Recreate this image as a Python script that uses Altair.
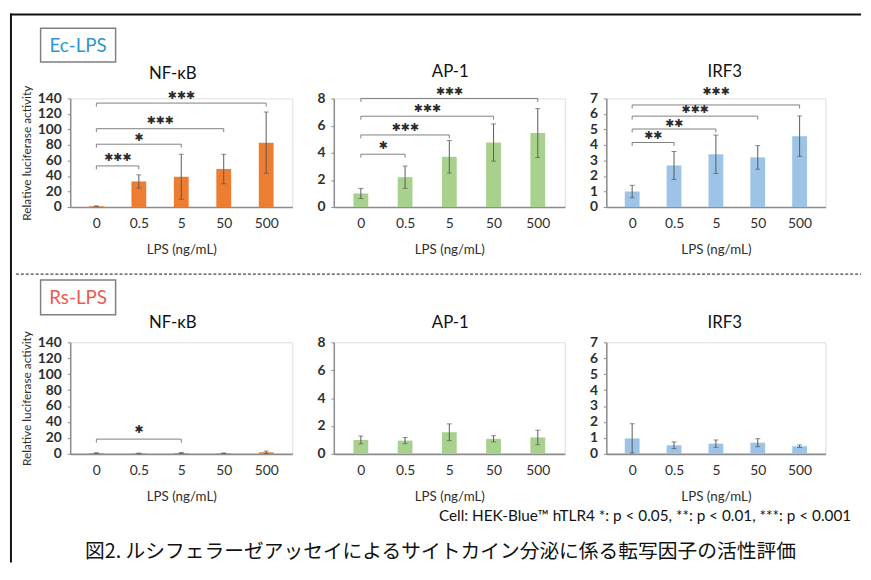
import json
import altair as alt
import pandas as pd

# ---------------- data ----------------
doses = ["0", "0.5", "5", "50", "500"]
genes = ["NF-κB", "AP-1", "IRF3"]
groups = ["Ec-LPS", "Rs-LPS"]
x_title = "LPS (ng/mL)"
y_title = "Relative luciferase activity"
footnote = "Cell: HEK-Blue™ hTLR4  *: p < 0.05, **: p < 0.01, ***: p < 0.001"
caption = "図2. ルシフェラーゼアッセイによるサイトカイン分泌に係る転写因子の活性評価"

ec_nfkb_mean = [1.0, 33, 39, 49, 83]
ec_nfkb_sd = [0.5, 8.5, 29, 19, 39.5]
ec_ap1_mean = [1.0, 2.2, 3.7, 4.75, 5.45]
ec_ap1_sd = [0.37, 0.82, 1.2, 1.37, 1.8]
ec_irf3_mean = [1.0, 2.68, 3.4, 3.2, 4.57]
ec_irf3_sd = [0.4, 0.9, 1.24, 0.76, 1.3]

rs_nfkb_mean = [1.0, 0.6, 1.1, 0.8, 2.0]
rs_nfkb_sd = [0.3, 0.3, 0.5, 0.3, 1.5]
rs_ap1_mean = [1.0, 0.95, 1.55, 1.08, 1.18]
rs_ap1_sd = [0.28, 0.22, 0.6, 0.22, 0.52]
rs_irf3_mean = [0.97, 0.54, 0.64, 0.7, 0.48]
rs_irf3_sd = [0.92, 0.21, 0.23, 0.25, 0.08]

y_max = [140, 8, 7]
y_step = [20, 2, 1]
bar_colors = ["#ED7D31", "#A9D18E", "#9DC3E6"]
group_colors = ["#2E96D2", "#EC5A4F"]

# significance brackets (0 vs dose index): bracket level, stars, star level
ec_nfkb_sig_to = [1, 2, 3, 4]
ec_nfkb_sig_y = [53, 81, 101, 134]
ec_nfkb_sig_star = ["***", "*", "***", "***"]
ec_nfkb_sig_star_y = [63, 89, 111, 143]

ec_ap1_sig_to = [1, 2, 3, 4]
ec_ap1_sig_y = [3.89, 5.31, 6.69, 8.0]
ec_ap1_sig_star = ["*", "***", "***", "***"]
ec_ap1_sig_star_y = [4.47, 5.8, 7.2, 8.45]

ec_irf3_sig_to = [1, 2, 3, 4]
ec_irf3_sig_y = [4.16, 5.03, 5.86, 6.58]
ec_irf3_sig_star = ["**", "**", "***", "***"]
ec_irf3_sig_star_y = [4.6, 5.34, 6.27, 7.4]

rs_nfkb_sig_to = [2]
rs_nfkb_sig_y = [18.5]
rs_nfkb_sig_star = ["*"]
rs_nfkb_sig_star_y = [30.5]

LATIN = "Lato, 'Open Sans', sans-serif"
AX = "#8c8c8c"
TXT = "#2e2e2e"

one = pd.DataFrame({"k": [0]})


def panel(mean, sd, gi, height, width, show_ytitle, title_xy,
          sig_to, sig_y, sig_star, sig_star_y, extra):
    ymax, ystep, color = y_max[gi], y_step[gi], bar_colors[gi]
    idx = list(range(len(doses)))
    df = pd.DataFrame({
        "idx": idx,
        "mean": mean,
        "lo": [m - s for m, s in zip(mean, sd)],
        "hi": [m + s for m, s in zip(mean, sd)],
    })
    caps = pd.DataFrame({"idx": idx + idx,
                         "v": list(df["lo"]) + list(df["hi"])})

    xscale = alt.Scale(domain=[-0.5, len(doses) - 0.5], nice=False, zero=False)
    yscale = alt.Scale(domain=[0, ymax], nice=False)
    xaxis = alt.Axis(
        values=idx, labelExpr=json.dumps(doses) + "[datum.value]",
        title=x_title, ticks=False, grid=False,
        domainColor=AX, domainWidth=1.6,
        labelFont=LATIN, labelFontSize=14, labelColor=TXT, labelPadding=10,
        labelFlush=False, labelOverlap=False,
        titleFont=LATIN, titleFontSize=13.5, titleFontWeight="normal",
        titleColor=TXT, titleY=43, titleBaseline="middle",
    )
    yaxis = alt.Axis(
        values=list(range(0, ymax + 1, ystep)),
        title=y_title if show_ytitle else "", grid=False,
        tickSize=3, tickColor=AX, domainColor=AX, domainWidth=1.5,
        labelFont=LATIN, labelFontSize=14, labelFontWeight="bold",
        labelColor=TXT, labelPadding=6, labelOverlap=False, labelFlush=False,
        titleFont=LATIN, titleFontSize=12, titleFontWeight="normal",
        titleColor=TXT, titleX=-44, titleY=height / 2, titleAngle=270,
        titleAlign="center", titleBaseline="middle",
    )
    X = lambda f: alt.X(f, scale=xscale, axis=xaxis)
    Y = lambda f: alt.Y(f, scale=yscale, axis=yaxis)

    bars = alt.Chart(df).mark_bar(size=15, color=color).encode(
        x=X("idx:Q"), y=Y("mean:Q"))
    err = alt.Chart(df).mark_rule(color="#595959", strokeWidth=1).encode(
        x=X("idx:Q"), y=Y("lo:Q"), y2="hi:Q")
    cap = alt.Chart(caps).mark_tick(color="#595959", thickness=1, size=5,
                                   orient="horizontal").encode(
        x=X("idx:Q"), y=Y("v:Q"))
    title = alt.Chart(one).mark_text(
        font=LATIN, fontSize=17, color="#111111", align="center",
        baseline="middle").encode(
        x=alt.value(title_xy[0]), y=alt.value(title_xy[1]),
        text=alt.value(genes[gi]))
    layers = [bars, err, cap, title]

    if sig_to:
        tip = ymax * 0.032
        rows, stars = [], []
        for b, (t, yl, st, sy) in enumerate(zip(sig_to, sig_y, sig_star, sig_star_y)):
            pts = [(0, yl - tip), (0, yl), (t, yl), (t, yl - tip)]
            for o, (px, py) in enumerate(pts):
                rows.append({"b": b, "o": o, "bx": px, "by": py})
            stars.append({"sx": t / 2, "sy": sy, "lab": st.replace("*", "✱")})
        br = alt.Chart(pd.DataFrame(rows)).mark_line(
            color="#7f7f7f", strokeWidth=1).encode(
            x=X("bx:Q"), y=Y("by:Q"), detail="b:N", order="o:Q")
        tx = alt.Chart(pd.DataFrame(stars)).mark_text(
            font="DejaVu Sans", fontSize=11, color="#2b2b2b",
            baseline="middle", align="center").encode(
            x=X("sx:Q"), y=Y("sy:Q"), text="lab:N")
        layers += [br, tx]

    layers += extra
    return alt.layer(*layers).properties(width=width, height=height)


def group_box(label, color, y0, y1):
    box = alt.Chart(one).mark_rect(fill="white", stroke="#808080",
                                   strokeWidth=1.5).encode(
        x=alt.value(-30), x2=alt.value(46), y=alt.value(y0), y2=alt.value(y1))
    txt = alt.Chart(one).mark_text(font=LATIN, fontSize=19, color=color,
                                   align="center", baseline="middle").encode(
        x=alt.value(8), y=alt.value((y0 + y1) / 2 + 1), text=alt.value(label))
    return [box, txt]


frame = [
    alt.Chart(one).mark_rule(color="#111111", strokeWidth=2).encode(
        x=alt.value(-60), y=alt.value(-86), y2=alt.value(470)),
    alt.Chart(one).mark_rule(color="#111111", strokeWidth=2).encode(
        x=alt.value(-61), x2=alt.value(801), y=alt.value(-85)),
]
row1_extra = frame + group_box(groups[0], group_colors[0], -71, -37)

row2_extra = [
    alt.Chart(one).mark_rule(color="#444444", strokeWidth=1.3,
                             strokeDash=[3, 2]).encode(
        x=alt.value(-55), x2=alt.value(801), y=alt.value(-69)),
] + group_box(groups[1], group_colors[1], -63, -28) + [
    alt.Chart(one).mark_text(font=LATIN, fontSize=15.5, color="#111111",
                             align="right", baseline="middle").encode(
        x=alt.value(791), y=alt.value(176), text=alt.value(footnote)),
    alt.Chart(one).mark_text(font="Noto Sans CJK JP", fontSize=20,
                             color="#111111", align="center",
                             baseline="middle").encode(
        x=alt.value(375), y=alt.value(212), text=alt.value(caption)),
]

widths = [225, 234, 222]
p1 = panel(ec_nfkb_mean, ec_nfkb_sd, 0, 110, widths[0], True, (104, -25),
           ec_nfkb_sig_to, ec_nfkb_sig_y, ec_nfkb_sig_star, ec_nfkb_sig_star_y,
           row1_extra)
p2 = panel(ec_ap1_mean, ec_ap1_sd, 1, 110, widths[1], False, (118, -27),
           ec_ap1_sig_to, ec_ap1_sig_y, ec_ap1_sig_star, ec_ap1_sig_star_y, [])
p3 = panel(ec_irf3_mean, ec_irf3_sd, 2, 110, widths[2], False, (120, -27),
           ec_irf3_sig_to, ec_irf3_sig_y, ec_irf3_sig_star, ec_irf3_sig_star_y, [])
p4 = panel(rs_nfkb_mean, rs_nfkb_sd, 0, 113, widths[0], True, (104, -19),
           rs_nfkb_sig_to, rs_nfkb_sig_y, rs_nfkb_sig_star, rs_nfkb_sig_star_y,
           row2_extra)
p5 = panel(rs_ap1_mean, rs_ap1_sd, 1, 113, widths[1], False, (118, -19),
           [], [], [], [], [])
p6 = panel(rs_irf3_mean, rs_irf3_sd, 2, 113, widths[2], False, (120, -19),
           [], [], [], [], [])

chart = alt.concat(
    p1, p2, p3, p4, p5, p6, columns=3, bounds="flush", align="each",
    spacing={"row": 137, "column": 42},
).properties(padding=0).configure_view(strokeWidth=0).configure(
    background="white")

chart.save("out.html", embed_options={"renderer": "svg", "actions": False})
